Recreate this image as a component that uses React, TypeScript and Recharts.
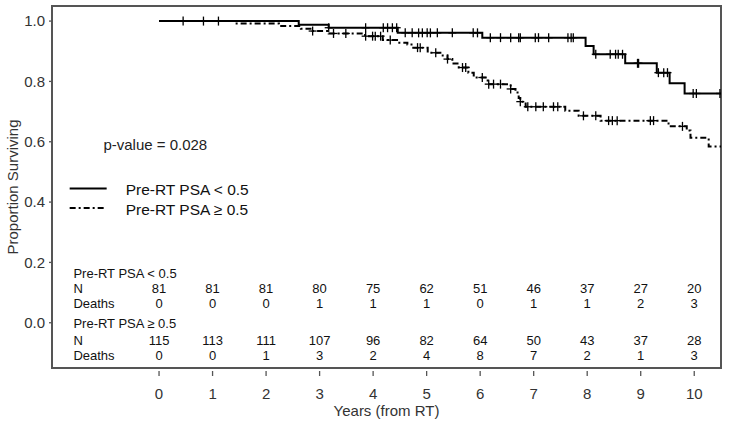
import React from 'react';
import { ComposedChart, Line, Scatter, XAxis, YAxis, ReferenceArea, Label } from 'recharts';

// ---- data ----
const lowTimes = [0, 2.61, 3.17, 4.46, 6.04, 7.97, 8.12, 8.71, 9.3, 9.54, 9.82, 10.5];
const lowSurv = [1.0, 0.988, 0.978, 0.961, 0.945, 0.917, 0.89, 0.86, 0.829, 0.794, 0.76, 0.76];
const lowCensor = [0.45, 0.83, 1.11, 3.17, 3.86, 4.19, 4.27, 4.36, 4.44, 4.6, 4.73, 4.85, 4.92, 5.01, 5.07, 5.2, 5.48, 5.87, 5.95, 6.19, 6.38, 6.57, 6.72, 6.75, 7.03, 7.09, 7.28, 7.64, 7.7, 7.74, 8.16, 8.43, 8.53, 8.58, 8.66, 8.94, 8.96, 9.33, 9.43, 9.5, 9.98, 10.04, 10.48];

const highTimes = [0, 1.43, 2.24, 2.65, 2.87, 3.17, 3.85, 4.18, 4.47, 4.64, 4.75, 5.02, 5.3, 5.39, 5.48, 5.6, 5.78, 5.88, 6.14, 6.57, 6.66, 6.72, 6.75, 6.85, 7.59, 7.84, 8.25, 9.52, 9.86, 9.93, 10.27, 10.5];
const highSurv = [1.0, 0.992, 0.984, 0.975, 0.967, 0.959, 0.95, 0.937, 0.928, 0.922, 0.912, 0.895, 0.886, 0.874, 0.859, 0.846, 0.829, 0.813, 0.791, 0.775, 0.763, 0.745, 0.733, 0.716, 0.703, 0.686, 0.67, 0.651, 0.637, 0.613, 0.584, 0.584];
const highCensor = [2.87, 3.26, 3.49, 3.86, 3.99, 4.04, 4.14, 4.32, 4.83, 4.88, 5.17, 5.39, 5.67, 5.73, 6.04, 6.16, 6.25, 6.38, 6.57, 6.75, 6.89, 7.04, 7.18, 7.37, 7.45, 7.93, 8.16, 8.4, 8.47, 8.56, 9.18, 9.24, 9.78];

const years = [0, 1, 2, 3, 4, 5, 6, 7, 8, 9, 10];
const lowN = [81, 81, 81, 80, 75, 62, 51, 46, 37, 27, 20];
const lowDeaths = [0, 0, 0, 1, 1, 1, 0, 1, 1, 2, 3];
const highN = [115, 113, 111, 107, 96, 82, 64, 50, 43, 37, 28];
const highDeaths = [0, 0, 1, 3, 2, 4, 8, 7, 2, 1, 3];
const yTicks = [0, 0.2, 0.4, 0.6, 0.8, 1.0];
const seriesNames = ['Pre-RT PSA < 0.5', 'Pre-RT PSA \u2265 0.5'];
const pValueText = 'p-value = 0.028';
const xLabel = 'Years (from RT)';
const yLabel = 'Proportion Surviving';

// ---- helpers ----
const FONT = '"Liberation Sans", Arial, sans-serif';
const stepAt = (times: number[], vals: number[], t: number) => {
  let v = vals[0];
  for (let i = 0; i < times.length; i++) if (times[i] <= t) v = vals[i];
  return v;
};
const lowLine = lowTimes.map((t, i) => ({ x: t, y: lowSurv[i] }));
const highLine = highTimes.map((t, i) => ({ x: t, y: highSurv[i] }));
const lowMarks = lowCensor.map((t) => ({ x: t, y: stepAt(lowTimes, lowSurv, t) }));
const highMarks = highCensor.map((t) => ({ x: t, y: stepAt(highTimes, highSurv, t) }));

// table rows (label x position and row y position in chart units)
const LABEL_X = -1.6;
const rowY = [0.162, 0.112, 0.063, -0.003, -0.058, -0.108];
const tableData: any[] = [];
const addRow = (y: number, label: string, values?: number[]) => {
  tableData.push({ x: LABEL_X, y, label, anchor: 'start' });
  if (values) values.forEach((v, i) => tableData.push({ x: years[i], y, label: String(v), anchor: 'middle' }));
};
addRow(rowY[0], seriesNames[0]);
addRow(rowY[1], 'N', lowN);
addRow(rowY[2], 'Deaths', lowDeaths);
addRow(rowY[3], seriesNames[1]);
addRow(rowY[4], 'N', highN);
addRow(rowY[5], 'Deaths', highDeaths);

const legendData = [
  { x: -1.67, y: 0.445, label: seriesNames[0], dash: '' },
  { x: -1.67, y: 0.38, label: seriesNames[1], dash: '6 3 2 3' },
];
const pData = [{ x: -1.04, y: 0.591, label: pValueText }];

// ---- shapes ----
const CensorMark = (p: any) => {
  const { cx, cy } = p;
  if (cx == null || cy == null) return null;
  return (
    <g stroke="#000" strokeWidth={1.3}>
      <line x1={cx} y1={cy - 4.5} x2={cx} y2={cy + 4.5} />
      <line x1={cx - 4} y1={cy} x2={cx + 4} y2={cy} />
    </g>
  );
};
const TableText = (p: any) => {
  const { cx, cy, payload } = p;
  return (
    <text x={cx} y={cy} textAnchor={payload.anchor} dominantBaseline="central" fontSize={13} fontFamily={FONT} fill="#111">
      {payload.label}
    </text>
  );
};
const LegendItem = (p: any) => {
  const { cx, cy, payload } = p;
  return (
    <g>
      <line x1={cx} x2={cx + 37} y1={cy} y2={cy} stroke="#000" strokeWidth={2} strokeDasharray={payload.dash || undefined} />
      <text x={cx + 56} y={cy + 1} dominantBaseline="central" fontSize={15.5} fontFamily={FONT} fill="#111">
        {payload.label}
      </text>
    </g>
  );
};
const PText = (p: any) => {
  const { cx, cy, payload } = p;
  return (
    <text x={cx} y={cy} dominantBaseline="central" fontSize={15} fontFamily={FONT} fill="#222">
      {payload.label}
    </text>
  );
};
const XTick = (p: any) => {
  const { x, y, payload } = p;
  return (
    <g>
      <line x1={x} x2={x} y1={y + 3} y2={y + 8} stroke="#555" strokeWidth={1.3} />
      <text x={x} y={y + 25} textAnchor="middle" dominantBaseline="central" fontSize={15} fontFamily={FONT} fill="#333">
        {payload.value}
      </text>
    </g>
  );
};

export default function App() {
  return (
    <div style={{ position: 'absolute', left: 0, top: 0, background: '#fff' }}>
      <ComposedChart width={729} height={425} margin={{ top: 6, right: 8, bottom: 0, left: 0 }}>
        <XAxis
          type="number"
          dataKey="x"
          domain={[-2, 10.5]}
          ticks={years}
          allowDataOverflow
          axisLine={false}
          tickLine={false}
          tickSize={0}
          tickMargin={0}
          height={57}
          tick={<XTick />}
          interval={0}
        >
          <Label value={xLabel} position="insideBottom" offset={9} style={{ fontSize: 15, fontFamily: FONT, fill: '#333' }} />
        </XAxis>
        <YAxis
          type="number"
          dataKey="y"
          domain={[-0.15, 1.05]}
          ticks={yTicks}
          allowDataOverflow
          width={52}
          axisLine={false}
          tickLine={{ stroke: '#555', strokeWidth: 1.3 }}
          tickSize={3}
          tickMargin={4}
          tickFormatter={(v: number) => v.toFixed(1)}
          tick={{ fontSize: 15, fontFamily: FONT, fill: '#333' }}
          interval={0}
        >
          <Label value={yLabel} angle={-90} position="insideLeft" offset={12.5} style={{ textAnchor: 'middle', fontSize: 15, fontFamily: FONT, fill: '#333' }} />
        </YAxis>
        <ReferenceArea x1={-2} x2={10.5} y1={-0.15} y2={1.05} fill="none" fillOpacity={0} stroke="#555" strokeWidth={2} ifOverflow="visible" />
        <Line data={lowLine} dataKey="y" type="stepAfter" stroke="#000" strokeWidth={2} dot={false} activeDot={false} isAnimationActive={false} />
        <Line data={highLine} dataKey="y" type="stepAfter" stroke="#000" strokeWidth={2} strokeDasharray="6 3 2 3" dot={false} activeDot={false} isAnimationActive={false} />
        <Scatter data={lowMarks} dataKey="y" shape={(p: any) => <CensorMark {...p} />} isAnimationActive={false} />
        <Scatter data={highMarks} dataKey="y" shape={(p: any) => <CensorMark {...p} />} isAnimationActive={false} />
        <Scatter data={tableData} dataKey="y" shape={(p: any) => <TableText {...p} />} isAnimationActive={false} />
        <Scatter data={legendData} dataKey="y" shape={(p: any) => <LegendItem {...p} />} isAnimationActive={false} />
        <Scatter data={pData} dataKey="y" shape={(p: any) => <PText {...p} />} isAnimationActive={false} />
      </ComposedChart>
    </div>
  );
}
